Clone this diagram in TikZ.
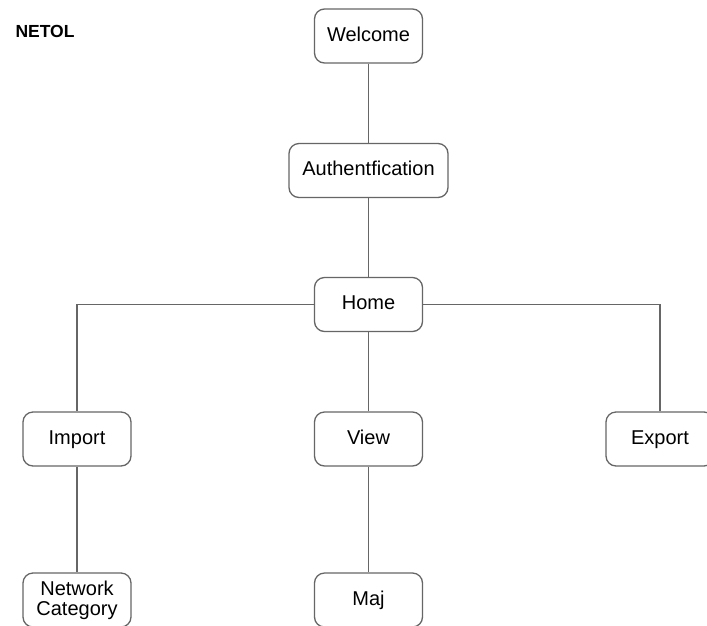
\documentclass[tikz,border=0pt]{standalone}
\usepackage{fontspec}
\setmainfont{Liberation Sans}
\begin{document}
\begin{tikzpicture}[x=1pt,y=-1pt,
  screen/.style={draw=black!60, line width=1.3pt, rounded corners=10pt,
    minimum width=108pt, minimum height=54pt, inner sep=2pt,
    font=\fontsize{20}{20}\selectfont, align=center},
  oneline/.style={screen, text height=14.4pt, text depth=4pt},
  link/.style={draw=black!60, line width=1.5pt}]
  \useasboundingbox (0,0) rectangle (707,625);
  \fill[white] (0,0) rectangle (707,625);

  \node[anchor=west, font=\bfseries\fontsize{17.5}{17.5}\selectfont] (title) at (12,31) {NETOL};

  \node[oneline] (welcome) at (368.5,36) {Welcome};
  \node[oneline, minimum width=159pt] (auth) at (368.5,170.5) {Authentfication};
  \node[oneline] (home) at (368.5,304.5) {Home};
  \node[oneline] (import) at (77,439) {Import};
  \node[oneline] (view) at (368.5,439) {View};
  \node[oneline] (export) at (660,439) {Export};
  \node[screen] (network) at (77,600) {Network\\Category};
  \node[oneline] (maj) at (368.5,600) {Maj};

  \draw[link] (welcome) -- (auth);
  \draw[link] (auth) -- (home);
  \draw[link] (home) -- (view);
  \draw[link] (home.west) -| (import.north);
  \draw[link] (home.east) -| (export.north);
  \draw[link] (import) -- (network);
  \draw[link] (view) -- (maj);
\end{tikzpicture}
\end{document}
